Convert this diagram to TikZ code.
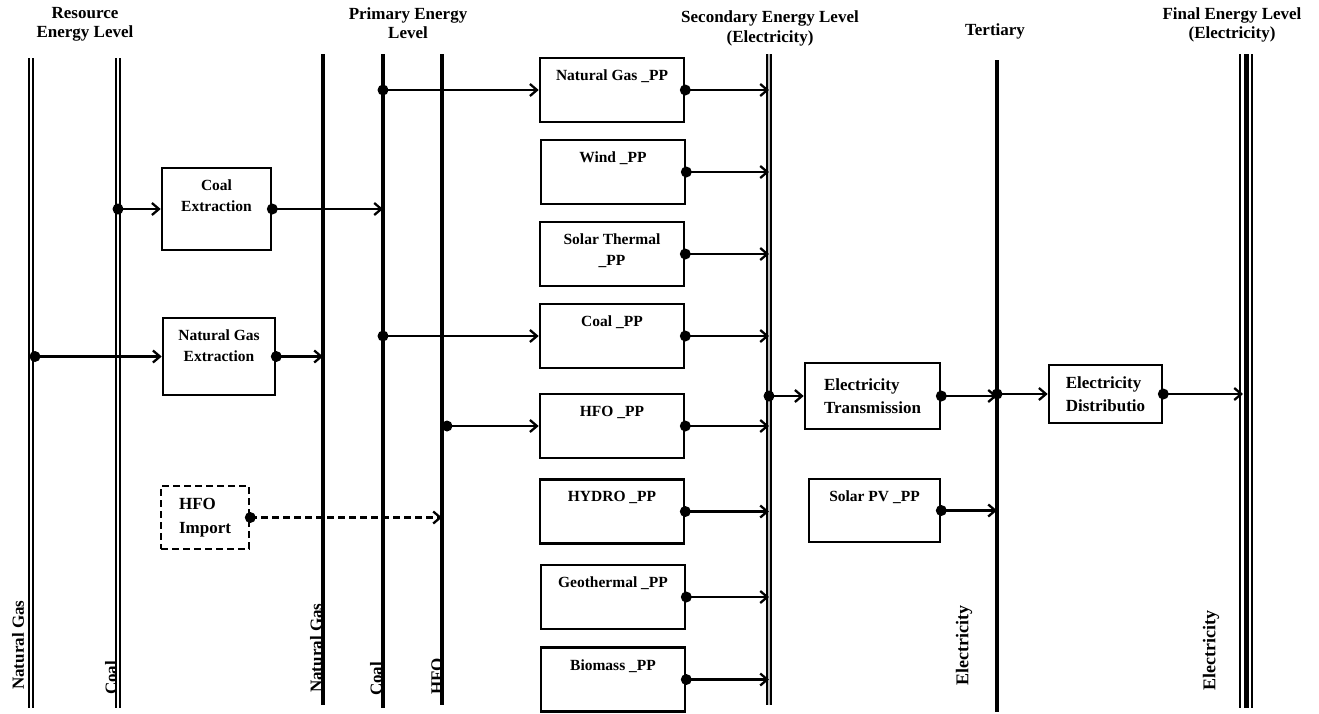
\documentclass[tikz,border=0pt]{standalone}
\usepackage{fontspec}
\setmainfont{Liberation Serif}
\usetikzlibrary{arrows.meta}

\tikzset{
  bus/.style={line width=3.5pt},
  resbus/.style={double, line width=2.2pt, double distance=2pt},
  secbus/.style={double=gray!50, line width=1.5pt, double distance=2.7pt},
  finbus/.style={double, line width=2pt, double distance=10pt},
  box/.style={draw, line width=2.6pt, inner sep=0pt},
  ppbox/.style={box, minimum width=144pt, minimum height=64pt},
  toptxt/.style={anchor=north, yshift=-13pt, inner sep=0pt, align=center,
    font=\fontsize{15.5}{21}\selectfont\bfseries},
  boxtxt/.style={align=left, font=\fontsize{17}{23.5}\selectfont\bfseries},
  hdr/.style={anchor=north, align=center, inner sep=0pt,
    font=\fontsize{17}{19.5}\selectfont\bfseries},
  vlbl/.style={rotate=90, anchor=west, inner sep=0pt,
    font=\fontsize{17}{20}\selectfont\bfseries},
  flow/.style={line width=2.3pt, -{Straight Barb[length=7pt,width=12pt]}}
}

\begin{document}
\begin{tikzpicture}[x=1pt,y=-1pt]
  \useasboundingbox (0,0) rectangle (1319,713);

  \coordinate (rNGT) at (31,58);     \coordinate (rNGB) at (31,708);
  \coordinate (rCoalT) at (118,58);  \coordinate (rCoalB) at (118,708);
  \coordinate (pNGT) at (323,54);    \coordinate (pNGB) at (323,705);
  \coordinate (pCoalT) at (383,54);  \coordinate (pCoalB) at (383,708);
  \coordinate (pHFOT) at (442,54);   \coordinate (pHFOB) at (442,705);
  \coordinate (secT) at (769,54);    \coordinate (secB) at (769,705);
  \coordinate (terT) at (997,60);    \coordinate (terB) at (997,712);
  \coordinate (finT) at (1246,54);   \coordinate (finB) at (1246,708);

  \draw[resbus] (rNGT) -- (rNGB);
  \draw[resbus] (rCoalT) -- (rCoalB);
  \draw[bus] (pNGT) -- (pNGB);
  \draw[bus] (pCoalT) -- (pCoalB);
  \draw[bus] (pHFOT) -- (pHFOB);
  \draw[secbus] (secT) -- (secB);
  \draw[line width=4pt] (terT) -- (terB);
  \draw[finbus] (finT) -- (finB);
  \draw[line width=5pt] (finT) -- (finB);

  \node[hdr] (resH) at (85,7) {Resource\\Energy Level};
  \node[hdr] (priH) at (408,7) {Primary Energy\\Level};
  \node[hdr] (secH) at (770,11) {Secondary Energy Level\\(Electricity)};
  \node[hdr] (terH) at (995,24) {Tertiary};
  \node[hdr] (finH) at (1232,7) {Final Energy Level\\(Electricity)};

  \node[vlbl] (rNGL) at (18,690) {Natural Gas};
  \node[vlbl] (rCoalL) at (111,695) {Coal};
  \node[vlbl] (pNGL) at (316,693) {Natural Gas};
  \node[vlbl] (pCoalL) at (376,696) {Coal};
  \node[vlbl] (pHFOL) at (437,695) {HFO};
  \node[vlbl, font=\fontsize{18}{20}\selectfont\bfseries] (terL) at (964,686) {Electricity};
  \node[vlbl, font=\fontsize{18}{20}\selectfont\bfseries] (finL) at (1211,691) {Electricity};

  \node[box, minimum width=109pt, minimum height=82pt,
    label={[toptxt]north:{Coal\\Extraction}}] (coalex) at (216.5,209) {};
  \node[box, minimum width=112pt, minimum height=77pt,
    label={[toptxt]north:{Natural Gas\\Extraction}}] (ngex) at (219,356.5) {};
  \node[box, boxtxt, dashed, dash pattern=on 7pt off 4pt, minimum width=88pt,
    minimum height=63pt] (hfoim) at (205,517.5) {HFO\\Import};

  \node[ppbox, label={[toptxt]north:Natural Gas \_PP}] (ngpp) at (612,90) {};
  \node[ppbox, label={[toptxt]north:Wind \_PP}] (windpp) at (613,172) {};
  \node[ppbox, label={[toptxt]north:{Solar Thermal\\\_PP}}] (solthpp) at (612,254) {};
  \node[ppbox, label={[toptxt]north:Coal \_PP}] (coalpp) at (612,336) {};
  \node[ppbox, label={[toptxt]north:HFO \_PP}] (hfopp) at (612,426) {};
  \node[ppbox, label={[toptxt]north:HYDRO \_PP}] (hydropp) at (612,511.5) {};
  \node[ppbox, label={[toptxt]north:Geothermal \_PP}] (geopp) at (613,597) {};
  \node[ppbox, label={[toptxt]north:Biomass \_PP}] (biopp) at (613,679.5) {};

  \node[box, boxtxt, minimum width=135pt, minimum height=66pt] (trans) at (872.5,396) {Electricity\\Transmission};
  \node[box, minimum width=131pt, minimum height=63pt,
    label={[toptxt]north:Solar PV \_PP}] (solpv) at (874.5,510.5) {};
  \node[box, boxtxt, minimum width=113pt, minimum height=58pt] (dist) at (1105.5,394) {Electricity\\Distributio};

  \draw[flow] (coalex.west -| rCoalT) -- (coalex.west);
  \fill (coalex.west -| rCoalT) circle (5.5pt);
  \draw[flow] (coalex.east) -- (coalex.east -| pCoalT);
  \fill (coalex.east) circle (5.5pt);
  \draw[flow] (ngex.west -| rNGT) -- (ngex.west);
  \fill ([xshift=4pt]ngex.west -| rNGT) circle (5.5pt);
  \draw[flow] (ngex.east) -- (ngex.east -| pNGT);
  \fill (ngex.east) circle (5.5pt);
  \draw[flow, dashed, dash pattern=on 7pt off 4pt] (hfoim.east) -- (hfoim.east -| pHFOT);
  \fill (hfoim.east) circle (5.5pt);

  \draw[flow] (ngpp.west -| pCoalT) -- (ngpp.west);
  \fill (ngpp.west -| pCoalT) circle (5.5pt);
  \draw[flow] (coalpp.west -| pCoalT) -- (coalpp.west);
  \fill (coalpp.west -| pCoalT) circle (5.5pt);
  \draw[flow] (hfopp.west -| pHFOT) -- (hfopp.west);
  \fill ([xshift=5pt]hfopp.west -| pHFOT) circle (5.5pt);

  \foreach \n in {ngpp,windpp,solthpp,coalpp,hfopp,hydropp,geopp,biopp}{
    \draw[flow] (\n.east) -- (\n.east -| secT);
    \fill (\n.east) circle (5.5pt);
  }

  \draw[flow] (trans.west -| secT) -- (trans.west);
  \fill (trans.west -| secT) circle (5.5pt);
  \draw[flow] (trans.east) -- (trans.east -| terT);
  \fill (trans.east) circle (5.5pt);
  \draw[flow] (solpv.east) -- (solpv.east -| terT);
  \fill (solpv.east) circle (5.5pt);
  \draw[flow] (dist.west -| terT) -- (dist.west);
  \fill (dist.west -| terT) circle (5.5pt);
  \draw[flow] (dist.east) -- ([xshift=-3pt]dist.east -| finT);
  \fill (dist.east) circle (5.5pt);
\end{tikzpicture}
\end{document}
